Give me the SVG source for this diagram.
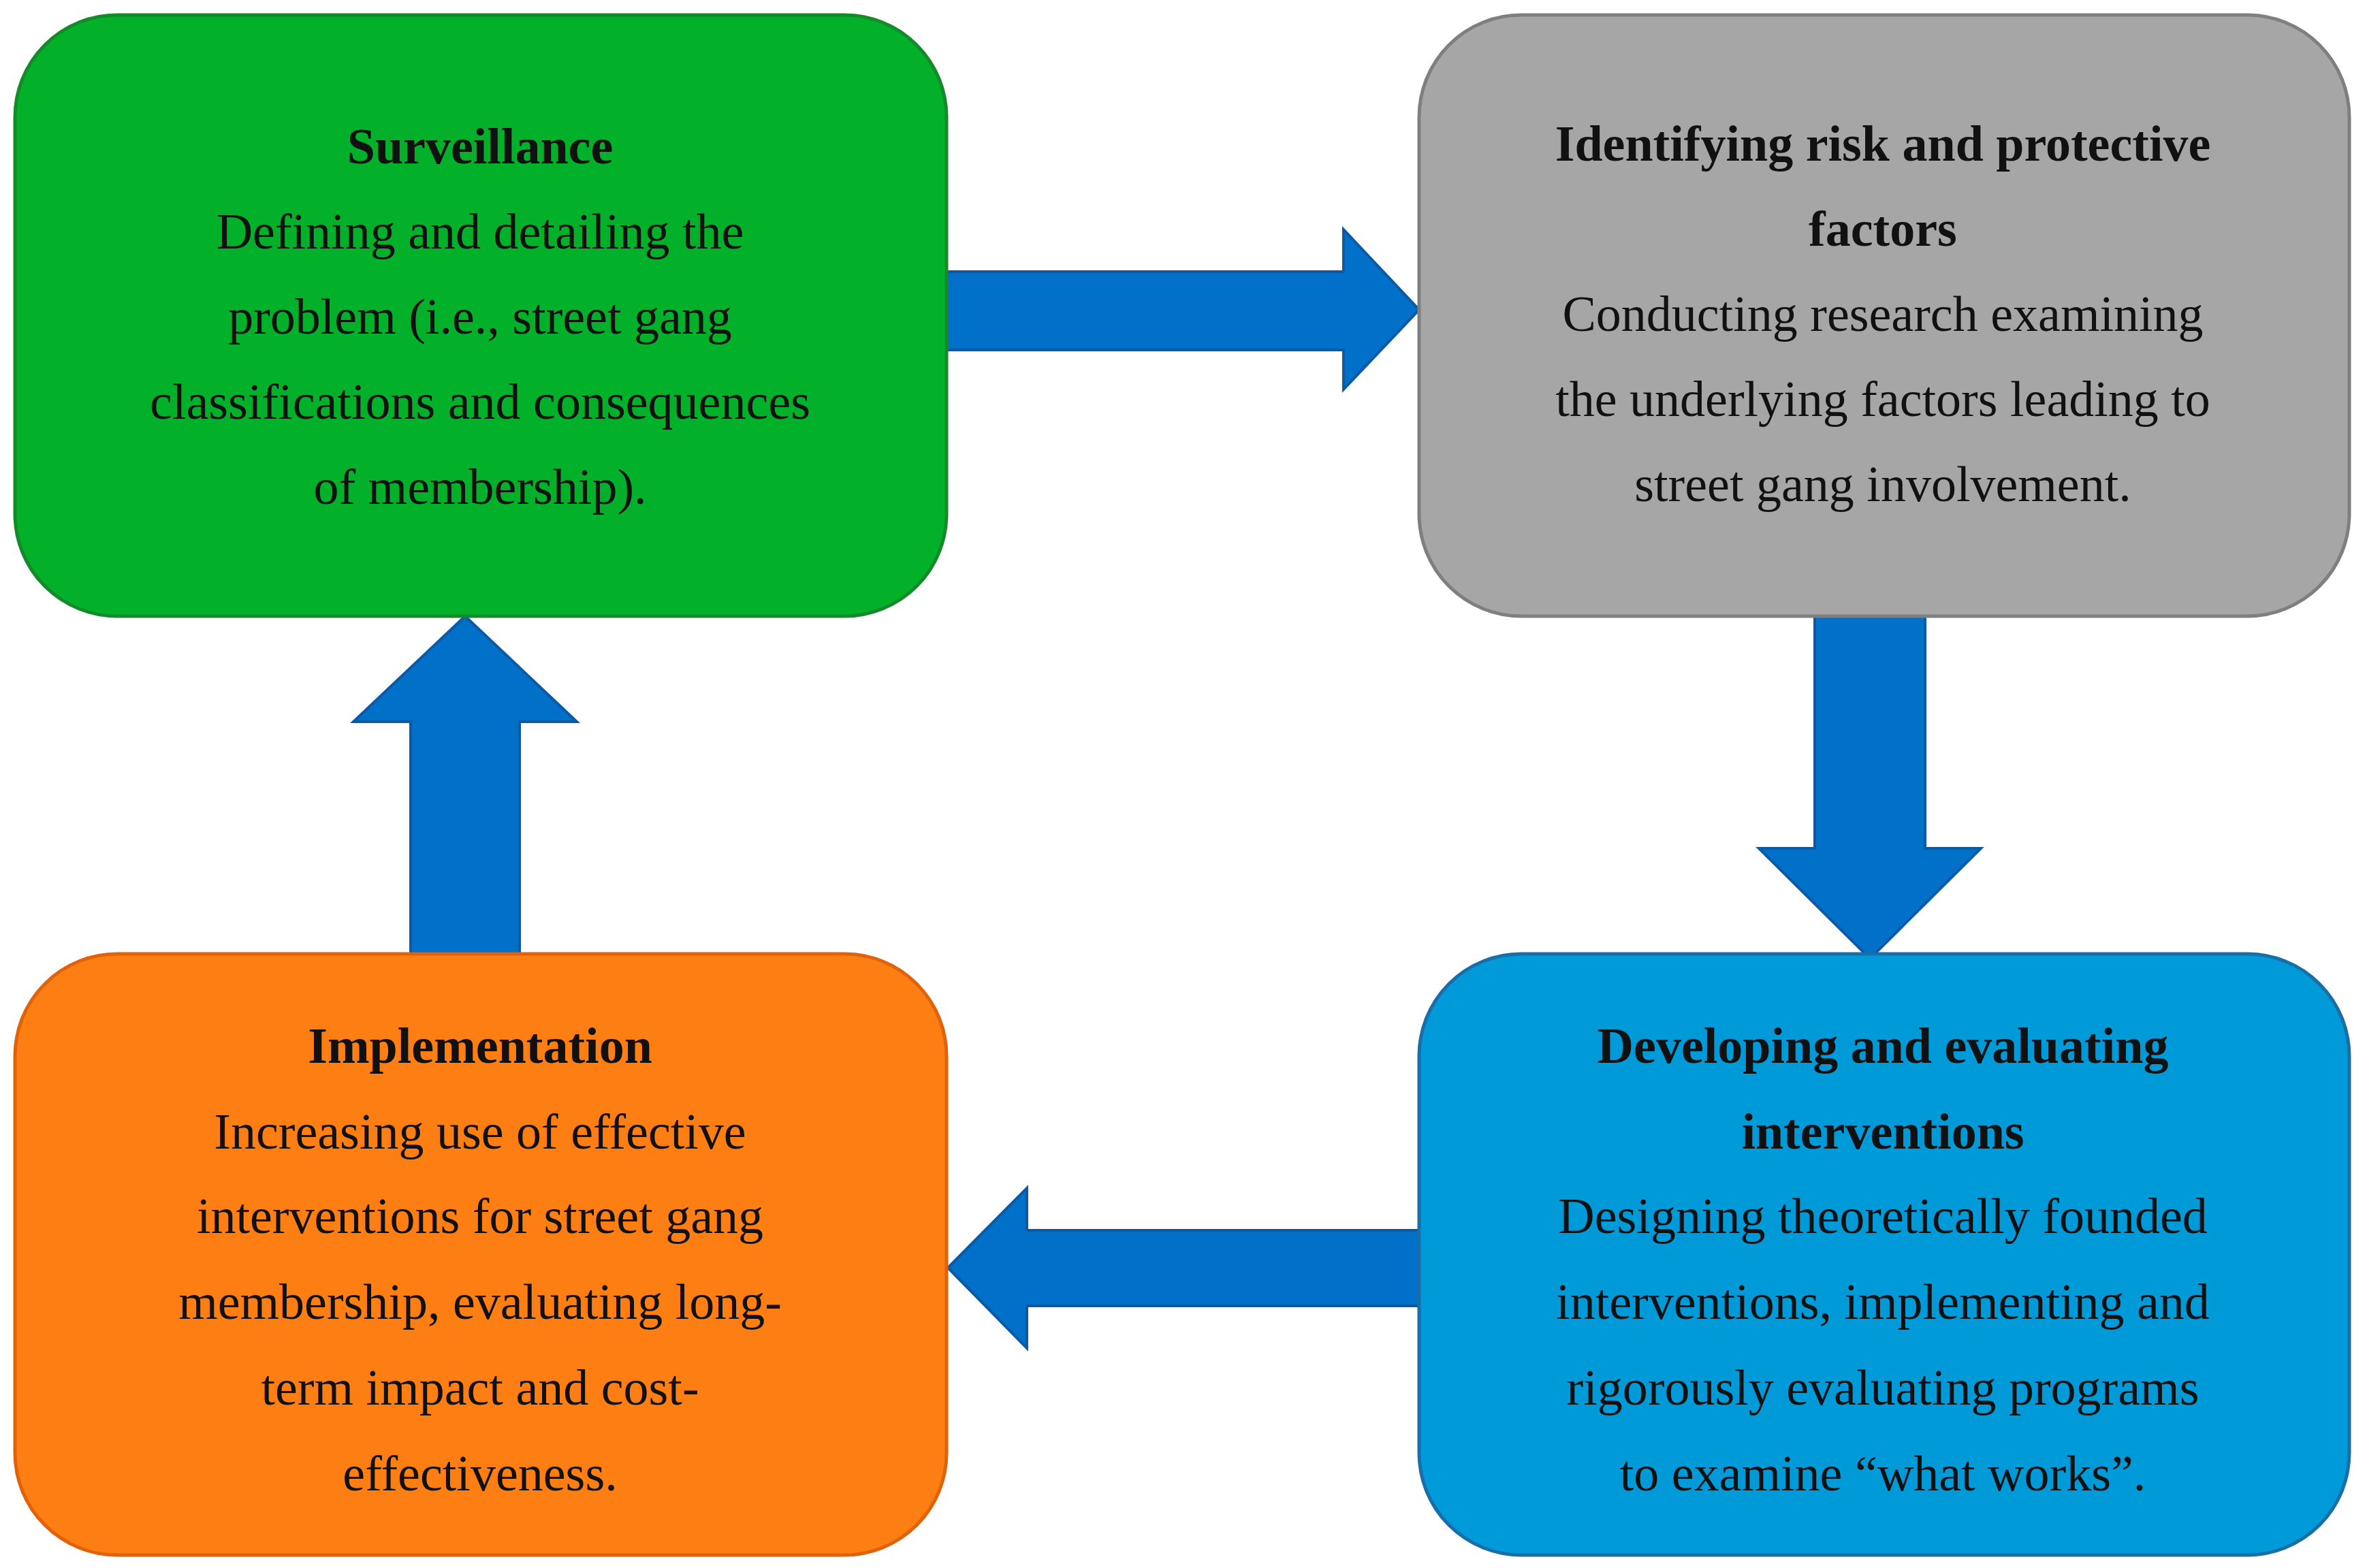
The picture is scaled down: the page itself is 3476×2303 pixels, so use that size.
<svg xmlns="http://www.w3.org/2000/svg" width="3476" height="2303" viewBox="0 0 3476 2303">
<style>
.box{stroke-width:5}
text{font-family:"Liberation Serif","DejaVu Serif",serif;font-size:74px;fill:#111;text-anchor:middle}
.b{font-weight:bold}
.arr{fill:#0070c8;stroke:#0b5aa6;stroke-width:4}
</style>
<rect width="3476" height="2303" fill="#fff"/>
<g id="connectors">
<polygon class="arr" points="1386,399 1973,399 1973,337 2084,455 1973,572 1973,514 1386,514"/>
<polygon class="arr" points="2665,905 2827,905 2827,1246 2909,1246 2746,1408 2583,1246 2665,1246"/>
<polygon class="arr" points="2095,1807 1508,1807 1508,1745 1392,1862 1508,1980 1508,1918 2095,1918"/>
<polygon class="arr" points="603,1401 603,1060 519,1060 683,905 847,1060 763,1060 763,1401"/>
</g>
<g id="surveillance">
<rect class="box" x="22" y="22" width="1368" height="883" rx="150" fill="#02b02a" stroke="#158a2a"/>
<text x="705" y="240" class="b">Surveillance</text>
<text x="705" y="365">Defining and detailing the</text>
<text x="705" y="490">problem (i.e., street gang</text>
<text x="705" y="615">classifications and consequences</text>
<text x="705" y="740">of membership).</text>
</g>
<g id="risk">
<rect class="box" x="2084" y="22" width="1366" height="883" rx="150" fill="#a6a6a6" stroke="#7f7f7f"/>
<text x="2765" y="236" class="b">Identifying risk and protective</text>
<text x="2765" y="361" class="b">factors</text>
<text x="2765" y="486">Conducting research examining</text>
<text x="2765" y="611">the underlying factors leading to</text>
<text x="2765" y="736">street gang involvement.</text>
</g>
<g id="developing">
<rect class="box" x="2084" y="1401" width="1366" height="883" rx="150" fill="#009ad8" stroke="#1a6ea8"/>
<text x="2765" y="1561" class="b">Developing and evaluating</text>
<text x="2765" y="1687" class="b">interventions</text>
<text x="2765" y="1811">Designing theoretically founded</text>
<text x="2765" y="1937">interventions, implementing and</text>
<text x="2765" y="2063">rigorously evaluating programs</text>
<text x="2765" y="2189">to examine “what works”.</text>
</g>
<g id="implementation">
<rect class="box" x="22" y="1401" width="1368" height="883" rx="150" fill="#fd7f14" stroke="#e0620a"/>
<text x="705" y="1561" class="b">Implementation</text>
<text x="705" y="1687">Increasing use of effective</text>
<text x="705" y="1811">interventions for street gang</text>
<text x="705" y="1937">membership, evaluating long-</text>
<text x="705" y="2063">term impact and cost-</text>
<text x="705" y="2189">effectiveness.</text>
</g>
</svg>
